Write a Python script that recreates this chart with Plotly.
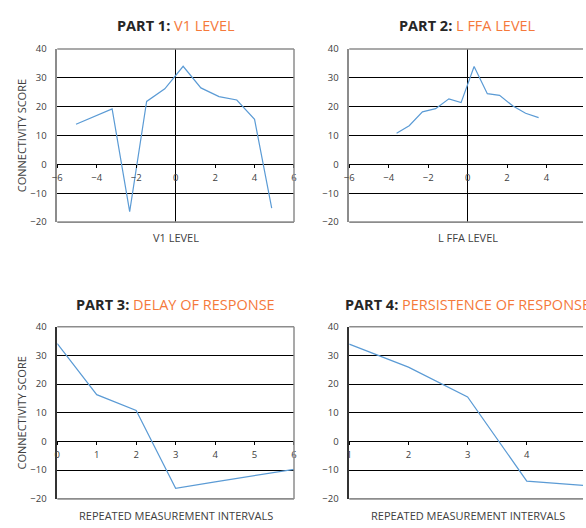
import plotly.graph_objects as go

# ---------------- data ----------------
p1_x = [-5.05, -4.13, -3.22, -2.33, -1.47, -0.55, 0.38, 1.28, 2.2, 3.1, 4.0, 4.87]
p1_y = [13.9, 16.5, 19.2, -16.4, 21.8, 26.2, 34.0, 26.5, 23.5, 22.3, 15.6, -15.2]

p2_x = [-3.6, -2.96, -2.29, -1.62, -0.95, -0.33, 0.33, 1.0, 1.62, 2.3, 2.94, 3.6]
p2_y = [10.8, 13.4, 18.2, 19.3, 22.7, 21.4, 33.9, 24.5, 23.9, 20.2, 17.7, 16.2]

p3_x = [0, 1, 2, 3, 4, 5, 6]
p3_y = [34.1, 16.3, 10.8, -16.3, -14.1, -12.0, -9.7]

p4_x = [1, 2, 3, 4, 5]
p4_y = [33.9, 25.9, 15.5, -13.8, -15.4]

titles_bold = ["PART 1: ", "PART 2: ", "PART 3: ", "PART 4: "]
titles_color = ["V1 LEVEL", "L FFA LEVEL", "DELAY OF RESPONSE", "PERSISTENCE OF RESPONSE"]
x_titles = ["V1 LEVEL", "L FFA LEVEL", "REPEATED MEASUREMENT INTERVALS", "REPEATED MEASUREMENT INTERVALS"]
y_title = "CONNECTIVITY SCORE"

x_ranges = [[-6, 6], [-6, 5.85], [0, 6], [1, 4.95]]
x_dticks = [2, 2, 1, 1]
y_range = [-20, 40]
y_dtick = 10

# ---------------- layout geometry (pixels) ----------------
W, H = 586, 528
cols_px = [(53, 293), (349, 586)]
rows_px = [(43, 220.5), (327.7, 504.3)]
FONT = "Open Sans"
TICK_COLOR = "#404040"
FRAME = "#8c8c8c"
ORANGE = "#F5793B"
LINE = "#5B9BD5"

fig = go.Figure()
series = [(p1_x, p1_y), (p2_x, p2_y), (p3_x, p3_y), (p4_x, p4_y)]

annotations = []
shapes = []
for i in range(4):
    r, c = divmod(i, 2)
    n = "" if i == 0 else str(i + 1)
    xd = [cols_px[c][0] / W, min(cols_px[c][1] / W, 1.0)]
    yd = [1 - rows_px[r][1] / H, 1 - rows_px[r][0] / H]
    ypos = yd[0] + (0 - y_range[0]) / (y_range[1] - y_range[0]) * (yd[1] - yd[0])

    fig.add_trace(go.Scatter(x=series[i][0], y=series[i][1], mode="lines",
                             line=dict(color=LINE, width=1.2),
                             xaxis="x" + n, yaxis="y" + n, showlegend=False,
                             hoverinfo="x+y"))

    fig.layout["xaxis" + n] = dict(
        domain=xd, range=x_ranges[i], anchor="free", position=ypos,
        dtick=x_dticks[i], tick0=0, showgrid=False,
        zeroline=(i < 2), zerolinecolor="black", zerolinewidth=1,
        showline=False, ticks="outside", ticklen=3, tickcolor="black",
        tickfont=dict(family=FONT, size=9.5, color=TICK_COLOR),
        ticklabelstandoff=1,
    )
    fig.layout["yaxis" + n] = dict(
        domain=yd, range=y_range, anchor="x" + n, dtick=y_dtick,
        showgrid=True, gridcolor="black", gridwidth=1,
        zeroline=True, zerolinecolor="black", zerolinewidth=1,
        showline=True, linecolor=(FRAME if i < 2 else "#333333"), linewidth=1.5,
        ticks="", tickfont=dict(family=FONT, size=9.5, color=TICK_COLOR),
        ticklabelstandoff=7,
    )

    xr = "x" + n + " domain"
    yr = "y" + n + " domain"
    shapes.append(dict(type="line", xref=xr, yref=yr, x0=0, x1=1, y0=1, y1=1,
                       line=dict(color=FRAME, width=1.5)))
    shapes.append(dict(type="line", xref=xr, yref=yr, x0=0, x1=1, y0=0, y1=0,
                       line=dict(color=FRAME, width=1.8)))
    if c == 0:
        shapes.append(dict(type="line", xref=xr, yref=yr, x0=1, x1=1, y0=0, y1=1,
                           line=dict(color=FRAME, width=1.5)))

    cx = (cols_px[c][0] + cols_px[c][0] + 240) / 2 / W
    title_y = [18.5, 305.5][r]
    xt_y = [236, 521][r]
    annotations.append(dict(
        x=cx, y=1 - title_y / H, xref="paper", yref="paper", showarrow=False,
        xanchor="center", yanchor="middle",
        text="<b>" + titles_bold[i] + "</b><span style='color:" + ORANGE + "'>" + titles_color[i] + "</span>",
        font=dict(family=FONT, size=14.5, color="#262626")))
    annotations.append(dict(
        x=cx, y=1 - xt_y / H, xref="paper", yref="paper", showarrow=False,
        xanchor="center", yanchor="middle", text=x_titles[i],
        font=dict(family=FONT, size=11, color="#404040")))
    if c == 0:
        annotations.append(dict(
            x=17 / W, y=(yd[0] + yd[1]) / 2, xref="paper", yref="paper", showarrow=False,
            xanchor="center", yanchor="middle", text=y_title, textangle=-90,
            font=dict(family=FONT, size=11, color="#404040")))

fig.update_layout(
    width=W, height=H, margin=dict(l=0, r=0, t=0, b=0),
    paper_bgcolor="white", plot_bgcolor="white",
    annotations=annotations, shapes=shapes,
    font=dict(family=FONT),
)

fig.write_html("out.html", config={"displayModeBar": False},
               post_script="document.body.style.margin='0';document.body.style.overflow='hidden';")
